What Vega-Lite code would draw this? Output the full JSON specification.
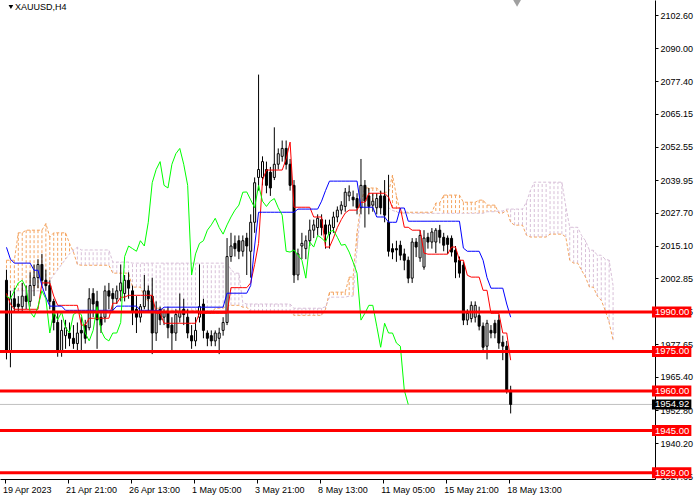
{
  "$schema": "https://vega.github.io/schema/vega-lite/v6.json",
  "width": 655,
  "height": 479,
  "padding": {"left": 0, "top": 0, "right": 45, "bottom": 21},
  "autosize": {"type": "none"},
  "background": "white",
  "config": {
    "font": "Liberation Sans",
    "view": {"stroke": null},
    "axis": {"labelFont": "Liberation Sans", "labelFontSize": 9, "labelColor": "black", "tickColor": "black", "domainColor": "black", "grid": false, "labelOverlap": false, "labelFlush": false, "labelBound": false, "title": null},
    "axisY": {"labelOverlap": false}
  },
  "title": {"text": "XAUUSD,H4", "anchor": "start", "frame": "group", "offset": -12, "dx": 15, "fontSize": 9, "font": "Liberation Sans", "fontWeight": "normal", "color": "black"},
  "datasets": {
    "bars": [
      {"i":0,"o":2002,"h":2006,"l":1972,"c":1975,"tk":1997,"kj":2014.5,"ch":1996},
      {"i":1,"o":1975,"h":1998,"l":1969,"c":1995,"tk":1993,"kj":2010,"ch":1995},
      {"i":2,"o":1995,"h":1999,"l":1990,"c":1992,"tk":1991,"kj":2008.5,"ch":1998},
      {"i":3,"o":1993,"h":1996,"l":1990,"c":1992,"tk":1991,"kj":2008.5,"ch":2001},
      {"i":4,"o":1992,"h":2001,"l":1990,"c":1996,"tk":1991,"kj":2008.5,"ch":2002},
      {"i":5,"o":1996,"h":2000,"l":1991,"c":1994,"tk":1991,"kj":2008.5,"ch":1999},
      {"i":6,"o":1994,"h":2005,"l":1992,"c":2000,"tk":1991,"kj":2008.5,"ch":1990},
      {"i":7,"o":2000,"h":2008,"l":1996,"c":2003,"tk":1991,"kj":2005.8,"ch":1988},
      {"i":8,"o":2003,"h":2010,"l":1999,"c":2008,"tk":1991,"kj":2005.8,"ch":1992},
      {"i":9,"o":2008,"h":2012,"l":2000,"c":2002,"tk":2001,"kj":2000,"ch":1998},
      {"i":10,"o":2002,"h":2006,"l":1998,"c":2000,"tk":2001,"kj":1995.6,"ch":1995},
      {"i":11,"o":2000,"h":2002,"l":1991,"c":1994,"tk":2001,"kj":1992.2,"ch":1982},
      {"i":12,"o":1994,"h":1995,"l":1983,"c":1986,"tk":1996,"kj":1992.2,"ch":1990},
      {"i":13,"o":1986,"h":1990,"l":1973,"c":1975,"tk":1992.5,"kj":1992.2,"ch":1987},
      {"i":14,"o":1975,"h":1987,"l":1973,"c":1983,"tk":1992.5,"kj":1992.2,"ch":1990},
      {"i":15,"o":1981,"h":1987,"l":1976,"c":1984,"tk":1992.5,"kj":1990.6,"ch":1984},
      {"i":16,"o":1982,"h":1986,"l":1977,"c":1980,"tk":1992.5,"kj":1990.6,"ch":1982},
      {"i":17,"o":1980,"h":1985,"l":1976,"c":1978,"tk":1992.5,"kj":1990.6,"ch":1989},
      {"i":18,"o":1978,"h":1986,"l":1975,"c":1982,"tk":1992.5,"kj":1990.6,"ch":1990},
      {"i":19,"o":1983,"h":1988,"l":1975,"c":1982,"tk":1985,"kj":1990.6,"ch":1989},
      {"i":20,"o":1985,"h":1987,"l":1978,"c":1980,"tk":1985,"kj":1990.6,"ch":1982},
      {"i":21,"o":1984,"h":1999,"l":1983,"c":1995,"tk":1987.6,"kj":1990.6,"ch":1979},
      {"i":22,"o":1997,"h":1999,"l":1988,"c":1993,"tk":1987.6,"kj":1990.6,"ch":1983},
      {"i":23,"o":1994,"h":1998,"l":1976,"c":1987,"tk":1987.6,"kj":1990.6,"ch":1992},
      {"i":24,"o":1988,"h":1990,"l":1982,"c":1985,"tk":1987.6,"kj":1990.6,"ch":1983},
      {"i":25,"o":1988,"h":2000,"l":1986,"c":1998,"tk":1987.6,"kj":1990.6,"ch":1980},
      {"i":26,"o":1998,"h":2001,"l":1991,"c":1996,"tk":1987.6,"kj":1990.6,"ch":1979},
      {"i":27,"o":1997,"h":1999,"l":1990,"c":1995,"tk":1993.3,"kj":1990.6,"ch":1982},
      {"i":28,"o":1995,"h":2000,"l":1993,"c":1998,"tk":1993.3,"kj":1992.2,"ch":1982},
      {"i":29,"o":1998,"h":2008,"l":1994,"c":2001,"tk":1995.6,"kj":1992.2,"ch":1986},
      {"i":30,"o":1997,"h":2004,"l":1994,"c":2002,"tk":1995.6,"kj":1992.2,"ch":2011},
      {"i":31,"o":2002,"h":2005,"l":1995,"c":1999,"tk":1996.3,"kj":1992.2,"ch":2015},
      {"i":32,"o":1998,"h":2000,"l":1985,"c":1990,"tk":1996.3,"kj":1992.2,"ch":2014},
      {"i":33,"o":1991,"h":1996,"l":1982,"c":1988,"tk":1996.3,"kj":1992.2,"ch":2013},
      {"i":34,"o":1988,"h":1993,"l":1986,"c":1992,"tk":1996.3,"kj":1990.6,"ch":2017},
      {"i":35,"o":1992,"h":2004,"l":1991,"c":1998,"tk":1996.3,"kj":1990.6,"ch":2015},
      {"i":36,"o":1998,"h":2000,"l":1990,"c":1995,"tk":1996.3,"kj":1990.6,"ch":2024},
      {"i":37,"o":1996,"h":2003,"l":1974,"c":1982,"tk":1996.3,"kj":1990.6,"ch":2039},
      {"i":38,"o":1982,"h":1994,"l":1979,"c":1990,"tk":1989.5,"kj":1990.6,"ch":2044},
      {"i":39,"o":1991,"h":1992,"l":1985,"c":1987,"tk":1989.5,"kj":1990.6,"ch":2047},
      {"i":40,"o":1988,"h":1991,"l":1985,"c":1990,"tk":1985.7,"kj":1991.8,"ch":2038},
      {"i":41,"o":1990,"h":1992,"l":1980,"c":1984,"tk":1985.7,"kj":1991.8,"ch":2037},
      {"i":42,"o":1985,"h":1988,"l":1975,"c":1982,"tk":1985.7,"kj":1991.8,"ch":2046},
      {"i":43,"o":1982,"h":1991,"l":1979,"c":1989,"tk":1985.7,"kj":1991.8,"ch":2050},
      {"i":44,"o":1988,"h":1997,"l":1986,"c":1990,"tk":1985.7,"kj":1991.8,"ch":2052},
      {"i":45,"o":1991,"h":1995,"l":1985,"c":1989,"tk":1985.7,"kj":1991.8,"ch":2046},
      {"i":46,"o":1988,"h":1991,"l":1980,"c":1982,"tk":1985.7,"kj":1991.8,"ch":2038},
      {"i":47,"o":1981,"h":1985,"l":1976,"c":1979,"tk":1985.7,"kj":1991.8,"ch":2004},
      {"i":48,"o":1979,"h":1988,"l":1977,"c":1983,"tk":1985.7,"kj":1991.8,"ch":2012},
      {"i":49,"o":1988,"h":2008,"l":1986,"c":1992,"tk":1989.5,"kj":1991.8,"ch":2016},
      {"i":50,"o":1993,"h":1995,"l":1980,"c":1983,"tk":1989.5,"kj":1991.8,"ch":2017},
      {"i":51,"o":1982,"h":1983,"l":1977,"c":1980,"tk":1989.5,"kj":1991.8,"ch":2021},
      {"i":52,"o":1981,"h":1983,"l":1977,"c":1979,"tk":1989.5,"kj":1991.8,"ch":2023},
      {"i":53,"o":1979,"h":1983,"l":1977,"c":1982,"tk":1989.5,"kj":1991.8,"ch":2025.5},
      {"i":54,"o":1980,"h":1984,"l":1974,"c":1982,"tk":1989.5,"kj":1991.8,"ch":2022},
      {"i":55,"o":1983,"h":1988,"l":1981,"c":1986,"tk":1989.5,"kj":1991.8,"ch":2019.5},
      {"i":56,"o":1986,"h":2018,"l":1985,"c":2011,"tk":1989.5,"kj":1997.1,"ch":2023},
      {"i":57,"o":2011,"h":2020,"l":2009,"c":2015,"tk":1999.2,"kj":1997.1,"ch":2026},
      {"i":58,"o":2016,"h":2019,"l":2011,"c":2014,"tk":1999.2,"kj":1997.1,"ch":2028.6},
      {"i":59,"o":2017,"h":2019,"l":2010,"c":2013,"tk":1999.2,"kj":1997.1,"ch":2030.5},
      {"i":60,"o":2013,"h":2019,"l":2011,"c":2017,"tk":1999.2,"kj":1997.1,"ch":2035.4},
      {"i":61,"o":2018,"h":2020,"l":2004,"c":2015,"tk":1999.2,"kj":1997.1,"ch":2035.5},
      {"i":62,"o":2013,"h":2027,"l":2003,"c":2024,"tk":2001,"kj":2000,"ch":2032.5},
      {"i":63,"o":2024,"h":2041,"l":2020,"c":2039,"tk":2008,"kj":2015,"ch":2029.5},
      {"i":64,"o":2041,"h":2080,"l":2036,"c":2044,"tk":2016,"kj":2027.8,"ch":2038},
      {"i":65,"o":2041,"h":2049,"l":2038,"c":2047,"tk":2040,"kj":2027.8,"ch":2032},
      {"i":66,"o":2044,"h":2047,"l":2035,"c":2038,"tk":2043.8,"kj":2027.8,"ch":2030},
      {"i":67,"o":2043,"h":2045,"l":2034,"c":2037,"tk":2043.8,"kj":2027.8,"ch":2032},
      {"i":68,"o":2041,"h":2060,"l":2040,"c":2046,"tk":2043.8,"kj":2027.8,"ch":2033},
      {"i":69,"o":2046,"h":2052,"l":2044,"c":2050,"tk":2043.8,"kj":2027.8,"ch":2029.5},
      {"i":70,"o":2049,"h":2055,"l":2047,"c":2052,"tk":2043.8,"kj":2027.8,"ch":2026.7},
      {"i":71,"o":2052,"h":2055,"l":2044,"c":2046,"tk":2048,"kj":2027.8,"ch":2013},
      {"i":72,"o":2046,"h":2048,"l":2036,"c":2038,"tk":2054.4,"kj":2027.8,"ch":2012.7},
      {"i":73,"o":2038,"h":2040,"l":2001,"c":2004,"tk":2029.7,"kj":2027.8,"ch":2013.5},
      {"i":74,"o":2004,"h":2014,"l":2002,"c":2012,"tk":2029.7,"kj":2029,"ch":2011.5},
      {"i":75,"o":2015,"h":2020,"l":2010,"c":2016,"tk":2029.7,"kj":2029,"ch":2009.6},
      {"i":76,"o":2014,"h":2019,"l":2010,"c":2017,"tk":2029.7,"kj":2029,"ch":2002.8},
      {"i":77,"o":2017,"h":2025,"l":2015,"c":2021,"tk":2029.7,"kj":2029,"ch":2016.5},
      {"i":78,"o":2021,"h":2025,"l":2018,"c":2023,"tk":2026,"kj":2029,"ch":2014.6},
      {"i":79,"o":2022,"h":2027,"l":2019,"c":2025.5,"tk":2026,"kj":2029,"ch":2019},
      {"i":80,"o":2025,"h":2027,"l":2019,"c":2022,"tk":2026,"kj":2032,"ch":2018},
      {"i":81,"o":2023,"h":2025,"l":2014,"c":2019.5,"tk":2014.6,"kj":2036,"ch":2016.5},
      {"i":82,"o":2019.5,"h":2025,"l":2014,"c":2023,"tk":2014.6,"kj":2039.6,"ch":2020.3},
      {"i":83,"o":2022,"h":2028,"l":2020,"c":2026,"tk":2018,"kj":2039.6,"ch":2021},
      {"i":84,"o":2026,"h":2030,"l":2024,"c":2028.6,"tk":2022,"kj":2039.6,"ch":2018.3},
      {"i":85,"o":2028.6,"h":2032,"l":2027,"c":2030.5,"tk":2025,"kj":2039.6,"ch":2015.3},
      {"i":86,"o":2030,"h":2037,"l":2028,"c":2035.4,"tk":2027.5,"kj":2039.6,"ch":2015.6},
      {"i":87,"o":2034,"h":2038,"l":2032,"c":2035.5,"tk":2028.6,"kj":2039.6,"ch":2012.7},
      {"i":88,"o":2033.5,"h":2036,"l":2030,"c":2032.5,"tk":2028.6,"kj":2039.6,"ch":2008.9},
      {"i":89,"o":2033,"h":2035,"l":2027,"c":2029.5,"tk":2028.6,"kj":2039.6,"ch":2004.7},
      {"i":90,"o":2029.5,"h":2048,"l":2027,"c":2038,"tk":2031.6,"kj":2029.7,"ch":1986.9},
      {"i":91,"o":2038,"h":2040,"l":2022,"c":2032,"tk":2031.6,"kj":2029.7,"ch":1989.5},
      {"i":92,"o":2034,"h":2037,"l":2027,"c":2030,"tk":2035,"kj":2029.7,"ch":1992.5},
      {"i":93,"o":2030.5,"h":2035,"l":2028,"c":2032,"tk":2035,"kj":2029.7,"ch":1992.5},
      {"i":94,"o":2029.5,"h":2035,"l":2027,"c":2033,"tk":2035,"kj":2026,"ch":1984.6},
      {"i":95,"o":2034,"h":2036,"l":2027,"c":2029.5,"tk":2035,"kj":2026,"ch":1976.6},
      {"i":96,"o":2034,"h":2040,"l":2024,"c":2026.7,"tk":2035,"kj":2026,"ch":1985.7},
      {"i":97,"o":2024,"h":2042,"l":2011,"c":2013,"tk":2033.5,"kj":2024,"ch":1982},
      {"i":98,"o":2014,"h":2016,"l":2010,"c":2012.7,"tk":2029.4,"kj":2024,"ch":1982},
      {"i":99,"o":2014,"h":2017,"l":2009,"c":2013.5,"tk":2029.4,"kj":2024,"ch":1978.2},
      {"i":100,"o":2015.3,"h":2017,"l":2009.6,"c":2011.5,"tk":2029.4,"kj":2029.4,"ch":1977},
      {"i":101,"o":2012,"h":2014,"l":2005.8,"c":2009.6,"tk":2022.1,"kj":2029.4,"ch":1960.3},
      {"i":102,"o":2009.6,"h":2011,"l":2000.9,"c":2002.8,"tk":2022.1,"kj":2024.4,"ch":1954.92},
      {"i":103,"o":2002.8,"h":2018,"l":2001,"c":2016.5,"tk":2021,"kj":2024.4},
      {"i":104,"o":2016.5,"h":2018,"l":2010.8,"c":2014.6,"tk":2021,"kj":2024.4},
      {"i":105,"o":2010.5,"h":2021,"l":2009,"c":2019,"tk":2021,"kj":2024.4},
      {"i":106,"o":2007,"h":2021,"l":2006,"c":2018,"tk":2012.3,"kj":2024.4},
      {"i":107,"o":2018.3,"h":2020,"l":2014,"c":2016.5,"tk":2011.9,"kj":2024.4},
      {"i":108,"o":2016.5,"h":2021.8,"l":2014,"c":2020.3,"tk":2011.9,"kj":2024.4},
      {"i":109,"o":2016.5,"h":2021.8,"l":2012.3,"c":2021,"tk":2011.9,"kj":2024.4},
      {"i":110,"o":2021,"h":2023,"l":2016,"c":2018.3,"tk":2011.9,"kj":2024.4},
      {"i":111,"o":2018.3,"h":2020,"l":2013,"c":2015.3,"tk":2011.9,"kj":2024.4},
      {"i":112,"o":2018,"h":2019,"l":2012,"c":2015.6,"tk":2011.9,"kj":2024.4},
      {"i":113,"o":2017.9,"h":2019,"l":2011,"c":2012.7,"tk":2014.6,"kj":2024.4},
      {"i":114,"o":2013.4,"h":2015,"l":2002.8,"c":2008.9,"tk":2014.6,"kj":2024.4},
      {"i":115,"o":2009.6,"h":2011,"l":2003,"c":2004.7,"tk":2009.6,"kj":2024.4},
      {"i":116,"o":2007.7,"h":2009,"l":1985,"c":1986.9,"tk":2009.6,"kj":2014.2},
      {"i":117,"o":1986.9,"h":1991,"l":1985,"c":1989.5,"tk":2003.9,"kj":2013},
      {"i":118,"o":1987.5,"h":1994,"l":1986,"c":1992.5,"tk":2003.2,"kj":2013},
      {"i":119,"o":1988,"h":1994,"l":1986,"c":1992.5,"tk":2003.2,"kj":2013},
      {"i":120,"o":1988.6,"h":1992,"l":1983,"c":1984.6,"tk":2003.2,"kj":2013},
      {"i":121,"o":1984.6,"h":1986,"l":1975,"c":1976.6,"tk":1998.2,"kj":2009.6},
      {"i":122,"o":1977,"h":1987,"l":1972,"c":1985.7,"tk":1998.2,"kj":2003},
      {"i":123,"o":1983,"h":1985,"l":1980,"c":1982,"tk":1989.5,"kj":1999},
      {"i":124,"o":1985.7,"h":1987,"l":1980,"c":1982,"tk":1989.5,"kj":1999},
      {"i":125,"o":1986.9,"h":1989,"l":1976,"c":1978.2,"tk":1989.5,"kj":1999},
      {"i":126,"o":1978.5,"h":1981,"l":1971.7,"c":1977,"tk":1982,"kj":1999},
      {"i":127,"o":1977,"h":1979,"l":1959,"c":1960.3,"tk":1982,"kj":1993},
      {"i":128,"o":1960.3,"h":1962,"l":1951.5,"c":1954.92,"tk":1971.7,"kj":1988}
    ],
    "cloud": [
      {"i":0,"a":2009.6,"b":1998},{"i":1,"a":2009.6,"b":1998},{"i":2,"a":2009.6,"b":1998},
      {"i":3,"a":2020,"b":1998},{"i":4,"a":2020,"b":1998},{"i":5,"a":2021,"b":1998},
      {"i":6,"a":2021,"b":1998},{"i":7,"a":2021,"b":1998},{"i":8,"a":2021,"b":1998},
      {"i":9,"a":2021,"b":1998},{"i":10,"a":2023.5,"b":2000},{"i":11,"a":2018.4,"b":2002},
      {"i":12,"a":2020,"b":2004},{"i":13,"a":2020,"b":2006},{"i":14,"a":2020,"b":2008},
      {"i":15,"a":2020,"b":2010},{"i":16,"a":2016,"b":2012},{"i":17,"a":2012.7,"b":2013.5},
      {"i":18,"a":2008,"b":2014.5},{"i":19,"a":2007.7,"b":2013.5},{"i":20,"a":2007.7,"b":2013.5},
      {"i":21,"a":2007.7,"b":2013.5},{"i":22,"a":2007.7,"b":2013.5},{"i":23,"a":2007.7,"b":2013.5},
      {"i":24,"a":2007.7,"b":2013.5},{"i":25,"a":2007.7,"b":2013.5},{"i":26,"a":2007.7,"b":2013.5},
      {"i":27,"a":2004.7,"b":2008.9},{"i":28,"a":2004.7,"b":2008.9},{"i":29,"a":2004.7,"b":2008.9},
      {"i":30,"a":2004.7,"b":2008.9},{"i":31,"a":2004.7,"b":2008.9},{"i":32,"a":1999.4,"b":2008.5},
      {"i":33,"a":1999.4,"b":2008.5},{"i":34,"a":1999.4,"b":2008.5},{"i":35,"a":1996,"b":2008.5},
      {"i":36,"a":1994,"b":2008.5},{"i":37,"a":1994,"b":2008.5},{"i":38,"a":1991.4,"b":2008.5},
      {"i":39,"a":1991.4,"b":2008.5},{"i":40,"a":1990.6,"b":2008.5},{"i":41,"a":1990.6,"b":2008.5},
      {"i":42,"a":1990.6,"b":2008.5},{"i":43,"a":1990.6,"b":2008.5},{"i":44,"a":1990.6,"b":2008.5},
      {"i":45,"a":1990.6,"b":2008.5},{"i":46,"a":1990.6,"b":2008.5},{"i":47,"a":1990.6,"b":2008.5},
      {"i":48,"a":1990.6,"b":2008.5},{"i":49,"a":1990.6,"b":2008.5},{"i":50,"a":1989.5,"b":2008.5},
      {"i":51,"a":1989.5,"b":2008.5},{"i":52,"a":1989.5,"b":2008.5},{"i":53,"a":1991.4,"b":2008.5},
      {"i":54,"a":1991.4,"b":2008.5},{"i":55,"a":1991.4,"b":2008.5},{"i":56,"a":1992.5,"b":2008.5},
      {"i":57,"a":1992.5,"b":2006},{"i":58,"a":1992.5,"b":2004.7},{"i":59,"a":1992.5,"b":2004.7},
      {"i":60,"a":1991.8,"b":1993.5},{"i":61,"a":1991.8,"b":1993},{"i":62,"a":1990,"b":1993},
      {"i":63,"a":1990,"b":1993},{"i":64,"a":1990,"b":1993},{"i":65,"a":1990,"b":1993},
      {"i":66,"a":1990,"b":1993},{"i":67,"a":1990,"b":1993},{"i":68,"a":1990,"b":1993},
      {"i":69,"a":1990,"b":1993},{"i":70,"a":1990,"b":1993},{"i":71,"a":1990,"b":1993},
      {"i":72,"a":1990,"b":1993},{"i":73,"a":1988.7,"b":1991.4},{"i":74,"a":1988.7,"b":1991.4},
      {"i":75,"a":1988.7,"b":1991.4},{"i":76,"a":1988.7,"b":1991.4},{"i":77,"a":1988.7,"b":1991.4},
      {"i":78,"a":1988.7,"b":1991.4},{"i":79,"a":1988.7,"b":1991.4},{"i":80,"a":1988.7,"b":1991.4},
      {"i":81,"a":1991,"b":1992},{"i":82,"a":1997.5,"b":1995.6},{"i":83,"a":1997.5,"b":1995.6},
      {"i":84,"a":1997.5,"b":1995.6},{"i":85,"a":1997.5,"b":1995.6},{"i":86,"a":1997.5,"b":1995.6},
      {"i":87,"a":2003.2,"b":1996},{"i":88,"a":2003.2,"b":1996},{"i":89,"a":2020,"b":2014},
      {"i":90,"a":2031,"b":2030},{"i":91,"a":2037,"b":2030.5},{"i":92,"a":2037,"b":2030.5},
      {"i":93,"a":2037,"b":2030.5},{"i":94,"a":2037,"b":2030.5},{"i":95,"a":2035.4,"b":2029.5},
      {"i":96,"a":2035.4,"b":2029.5},{"i":97,"a":2035.4,"b":2029.5},{"i":98,"a":2041.9,"b":2028.5},
      {"i":99,"a":2034,"b":2028},{"i":100,"a":2027.8,"b":2027.4},{"i":101,"a":2027.8,"b":2027.4},
      {"i":102,"a":2027.8,"b":2027.4},{"i":103,"a":2027.8,"b":2027.4},{"i":104,"a":2027.8,"b":2027.4},
      {"i":105,"a":2027.8,"b":2027.4},{"i":106,"a":2027.8,"b":2027.4},{"i":107,"a":2027.8,"b":2027.4},
      {"i":108,"a":2027.8,"b":2027.4},{"i":109,"a":2031.3,"b":2027.4},{"i":110,"a":2031.3,"b":2027.4},
      {"i":111,"a":2034.3,"b":2027.4},{"i":112,"a":2034.3,"b":2027.4},{"i":113,"a":2034.3,"b":2027.4},
      {"i":114,"a":2034.3,"b":2027.4},{"i":115,"a":2034.3,"b":2027.4},{"i":116,"a":2031.6,"b":2027.4},
      {"i":117,"a":2031.6,"b":2027.4},{"i":118,"a":2031.6,"b":2027.4},{"i":119,"a":2031.6,"b":2027.4},
      {"i":120,"a":2032.4,"b":2027.4},{"i":121,"a":2032.4,"b":2027.4},{"i":122,"a":2030.5,"b":2028},
      {"i":123,"a":2030.5,"b":2028},{"i":124,"a":2030.5,"b":2028},{"i":125,"a":2027.5,"b":2028.3},
      {"i":126,"a":2027.5,"b":2028.3},{"i":127,"a":2028.6,"b":2029},{"i":128,"a":2024,"b":2029},
      {"i":129,"a":2022.9,"b":2029},{"i":130,"a":2022.9,"b":2029},{"i":131,"a":2022.9,"b":2029},
      {"i":132,"a":2019.1,"b":2031.6},{"i":133,"a":2018.4,"b":2036},{"i":134,"a":2018.4,"b":2039.2},
      {"i":135,"a":2018.4,"b":2039.2},{"i":136,"a":2018.4,"b":2039.2},{"i":137,"a":2018.4,"b":2039.2},
      {"i":138,"a":2019.5,"b":2039.2},{"i":139,"a":2019.5,"b":2039.2},{"i":140,"a":2019.5,"b":2039.2},
      {"i":141,"a":2019.5,"b":2039.2},{"i":142,"a":2018.4,"b":2030},{"i":143,"a":2009.6,"b":2022.1},
      {"i":144,"a":2008.5,"b":2022.1},{"i":145,"a":2008.5,"b":2022.1},{"i":146,"a":2005.8,"b":2019},
      {"i":147,"a":2003.2,"b":2017},{"i":148,"a":1999.4,"b":2013.4},{"i":149,"a":1999.4,"b":2013.4},
      {"i":150,"a":1996,"b":2011.5},{"i":151,"a":1994.4,"b":2011.5},{"i":152,"a":1990.6,"b":2010},
      {"i":153,"a":1986,"b":2009.6},{"i":154,"a":1979.3,"b":2000}
    ],
    "levels": [{"p": 1990}, {"p": 1975}, {"p": 1960}, {"p": 1945}, {"p": 1929}],
    "last": [{"p": 1954.92}]
  },
  "layer": [
    {
      "data": {"name": "cloud"},
      "mark": {"type": "rule", "strokeWidth": 1, "strokeDash": [3, 2]},
      "encoding": {
        "x": {
          "field": "i", "type": "quantitative", "title": null,
          "scale": {"domain": [-0.375, 163.375], "nice": false, "zero": false},
          "axis": {
            "values": [-0.5, 15.5, 31.5, 47.5, 63.5, 79.5, 95.5, 111.5, 127.5],
            "labelExpr": "['19 Apr 2023','21 Apr 21:00','26 Apr 13:00','1 May 05:00','3 May 21:00','8 May 13:00','11 May 05:00','15 May 21:00','18 May 13:00'][round((datum.value + 0.5) / 16)]",
            "labelAlign": "left", "labelBaseline": "top", "labelPadding": 2, "tickSize": 4, "labelOffset": -2,
            "labelOverlap": false, "labelFlush": false, "labelBound": false, "title": null
          }
        },
        "y": {
          "field": "a", "type": "quantitative", "title": null,
          "scale": {"domain": [1926.64, 2108.29], "nice": false, "zero": false},
          "axis": {
            "orient": "right",
            "values": [2102.6, 2090, 2077.4, 2065.15, 2052.55, 2039.95, 2027.7, 2015.1, 2002.85, 1990.25, 1977.65, 1965.4, 1952.8, 1940.2, 1927.65],
            "format": ".2f", "labelAlign": "left", "labelBaseline": "middle", "labelPadding": 2, "tickSize": 3,
            "labelOverlap": false, "labelFlush": false, "labelBound": false, "title": null
          }
        },
        "y2": {"field": "b"},
        "color": {"condition": {"test": "datum.a >= datum.b", "value": "#F4A460"}, "value": "#D8BFD8"}
      }
    },
    {
      "data": {"name": "cloud"},
      "mark": {"type": "line", "color": "#F4A460", "strokeWidth": 1, "strokeDash": [3, 2]},
      "encoding": {
        "x": {"field": "i", "type": "quantitative", "title": null},
        "y": {"field": "a", "type": "quantitative", "title": null, "axis": {"orient": "right", "values": [2102.6, 2090, 2077.4, 2065.15, 2052.55, 2039.95, 2027.7, 2015.1, 2002.85, 1990.25, 1977.65, 1965.4, 1952.8, 1940.2, 1927.65], "format": ".2f", "labelAlign": "left", "labelBaseline": "middle", "labelPadding": 2, "tickSize": 3, "labelOverlap": false, "title": null}}
      }
    },
    {
      "data": {"name": "cloud"},
      "mark": {"type": "line", "color": "#D8BFD8", "strokeWidth": 1, "strokeDash": [3, 2]},
      "encoding": {
        "x": {"field": "i", "type": "quantitative", "title": null},
        "y": {"field": "b", "type": "quantitative", "title": null, "axis": {"orient": "right", "values": [2102.6, 2090, 2077.4, 2065.15, 2052.55, 2039.95, 2027.7, 2015.1, 2002.85, 1990.25, 1977.65, 1965.4, 1952.8, 1940.2, 1927.65], "format": ".2f", "labelAlign": "left", "labelBaseline": "middle", "labelPadding": 2, "tickSize": 3, "labelOverlap": false, "title": null}}
      }
    },
    {
      "data": {"name": "last"},
      "mark": {"type": "rule", "color": "#C0C0C0", "strokeWidth": 1},
      "encoding": {"y": {"field": "p", "type": "quantitative", "title": null, "axis": {"orient": "right", "values": [2102.6, 2090, 2077.4, 2065.15, 2052.55, 2039.95, 2027.7, 2015.1, 2002.85, 1990.25, 1977.65, 1965.4, 1952.8, 1940.2, 1927.65], "format": ".2f", "labelAlign": "left", "labelBaseline": "middle", "labelPadding": 2, "tickSize": 3, "labelOverlap": false, "title": null}}}
    },
    {
      "data": {"name": "bars"},
      "mark": {"type": "rule", "color": "black", "strokeWidth": 1},
      "encoding": {
        "x": {"field": "i", "type": "quantitative", "title": null},
        "y": {"field": "l", "type": "quantitative", "title": null, "axis": {"orient": "right", "values": [2102.6, 2090, 2077.4, 2065.15, 2052.55, 2039.95, 2027.7, 2015.1, 2002.85, 1990.25, 1977.65, 1965.4, 1952.8, 1940.2, 1927.65], "format": ".2f", "labelAlign": "left", "labelBaseline": "middle", "labelPadding": 2, "tickSize": 3, "labelOverlap": false, "title": null}},
        "y2": {"field": "h"}
      }
    },
    {
      "data": {"name": "bars"},
      "mark": {"type": "bar", "width": 2, "stroke": "black", "strokeWidth": 1},
      "encoding": {
        "x": {"field": "i", "type": "quantitative", "title": null},
        "y": {"field": "o", "type": "quantitative", "title": null, "axis": {"orient": "right", "values": [2102.6, 2090, 2077.4, 2065.15, 2052.55, 2039.95, 2027.7, 2015.1, 2002.85, 1990.25, 1977.65, 1965.4, 1952.8, 1940.2, 1927.65], "format": ".2f", "labelAlign": "left", "labelBaseline": "middle", "labelPadding": 2, "tickSize": 3, "labelOverlap": false, "title": null}},
        "y2": {"field": "c"},
        "fill": {"condition": {"test": "datum.c >= datum.o", "value": "white"}, "value": "black"}
      }
    },
    {
      "data": {"name": "bars"},
      "mark": {"type": "line", "color": "#FF0000", "strokeWidth": 1},
      "encoding": {
        "x": {"field": "i", "type": "quantitative", "title": null},
        "y": {"field": "tk", "type": "quantitative", "title": null, "axis": {"orient": "right", "values": [2102.6, 2090, 2077.4, 2065.15, 2052.55, 2039.95, 2027.7, 2015.1, 2002.85, 1990.25, 1977.65, 1965.4, 1952.8, 1940.2, 1927.65], "format": ".2f", "labelAlign": "left", "labelBaseline": "middle", "labelPadding": 2, "tickSize": 3, "labelOverlap": false, "title": null}}
      }
    },
    {
      "data": {"name": "bars"},
      "mark": {"type": "line", "color": "#0000FF", "strokeWidth": 1},
      "encoding": {
        "x": {"field": "i", "type": "quantitative", "title": null},
        "y": {"field": "kj", "type": "quantitative", "title": null, "axis": {"orient": "right", "values": [2102.6, 2090, 2077.4, 2065.15, 2052.55, 2039.95, 2027.7, 2015.1, 2002.85, 1990.25, 1977.65, 1965.4, 1952.8, 1940.2, 1927.65], "format": ".2f", "labelAlign": "left", "labelBaseline": "middle", "labelPadding": 2, "tickSize": 3, "labelOverlap": false, "title": null}}
      }
    },
    {
      "data": {"name": "bars"},
      "mark": {"type": "line", "color": "#00FF00", "strokeWidth": 1},
      "encoding": {
        "x": {"field": "i", "type": "quantitative", "title": null},
        "y": {"field": "ch", "type": "quantitative", "title": null, "axis": {"orient": "right", "values": [2102.6, 2090, 2077.4, 2065.15, 2052.55, 2039.95, 2027.7, 2015.1, 2002.85, 1990.25, 1977.65, 1965.4, 1952.8, 1940.2, 1927.65], "format": ".2f", "labelAlign": "left", "labelBaseline": "middle", "labelPadding": 2, "tickSize": 3, "labelOverlap": false, "title": null}}
      }
    },
    {
      "data": {"name": "levels"},
      "mark": {"type": "rule", "color": "#FF0000", "strokeWidth": 3},
      "encoding": {"y": {"field": "p", "type": "quantitative", "title": null, "axis": {"orient": "right", "values": [2102.6, 2090, 2077.4, 2065.15, 2052.55, 2039.95, 2027.7, 2015.1, 2002.85, 1990.25, 1977.65, 1965.4, 1952.8, 1940.2, 1927.65], "format": ".2f", "labelAlign": "left", "labelBaseline": "middle", "labelPadding": 2, "tickSize": 3, "labelOverlap": false, "title": null}}}
    },
    {
      "data": {"name": "levels"},
      "mark": {"type": "rule", "color": "#FF0000", "strokeWidth": 11, "strokeCap": "butt"},
      "encoding": {
        "x": {"datum": 163.875, "type": "quantitative", "title": null},
        "x2": {"datum": 173.875},
        "y": {"field": "p", "type": "quantitative", "title": null, "axis": {"orient": "right", "values": [2102.6, 2090, 2077.4, 2065.15, 2052.55, 2039.95, 2027.7, 2015.1, 2002.85, 1990.25, 1977.65, 1965.4, 1952.8, 1940.2, 1927.65], "format": ".2f", "labelAlign": "left", "labelBaseline": "middle", "labelPadding": 2, "tickSize": 3, "labelOverlap": false, "title": null}}
      }
    },
    {
      "data": {"name": "levels"},
      "mark": {"type": "text", "color": "white", "align": "left", "baseline": "middle", "fontSize": 9.5, "font": "Liberation Sans"},
      "encoding": {
        "x": {"datum": 164.625, "type": "quantitative", "title": null},
        "y": {"field": "p", "type": "quantitative", "title": null, "axis": {"orient": "right", "values": [2102.6, 2090, 2077.4, 2065.15, 2052.55, 2039.95, 2027.7, 2015.1, 2002.85, 1990.25, 1977.65, 1965.4, 1952.8, 1940.2, 1927.65], "format": ".2f", "labelAlign": "left", "labelBaseline": "middle", "labelPadding": 2, "tickSize": 3, "labelOverlap": false, "title": null}},
        "text": {"field": "p", "type": "quantitative", "format": ".2f"}
      }
    },
    {
      "data": {"name": "last"},
      "mark": {"type": "rule", "color": "black", "strokeWidth": 10, "strokeCap": "butt"},
      "encoding": {
        "x": {"datum": 163.875, "type": "quantitative", "title": null},
        "x2": {"datum": 173.875},
        "y": {"field": "p", "type": "quantitative", "title": null, "axis": {"orient": "right", "values": [2102.6, 2090, 2077.4, 2065.15, 2052.55, 2039.95, 2027.7, 2015.1, 2002.85, 1990.25, 1977.65, 1965.4, 1952.8, 1940.2, 1927.65], "format": ".2f", "labelAlign": "left", "labelBaseline": "middle", "labelPadding": 2, "tickSize": 3, "labelOverlap": false, "title": null}}
      }
    },
    {
      "data": {"name": "last"},
      "mark": {"type": "text", "color": "white", "align": "left", "baseline": "middle", "fontSize": 9.5, "font": "Liberation Sans"},
      "encoding": {
        "x": {"datum": 164.625, "type": "quantitative", "title": null},
        "y": {"field": "p", "type": "quantitative", "title": null, "axis": {"orient": "right", "values": [2102.6, 2090, 2077.4, 2065.15, 2052.55, 2039.95, 2027.7, 2015.1, 2002.85, 1990.25, 1977.65, 1965.4, 1952.8, 1940.2, 1927.65], "format": ".2f", "labelAlign": "left", "labelBaseline": "middle", "labelPadding": 2, "tickSize": 3, "labelOverlap": false, "title": null}},
        "text": {"field": "p", "type": "quantitative", "format": ".2f"}
      }
    },
    {
      "data": {"values": [{"k": "menu"}]},
      "mark": {"type": "point", "shape": "triangle-down", "filled": true, "color": "black", "size": 22, "opacity": 1},
      "encoding": {
        "x": {"datum": 1.125, "type": "quantitative", "title": null},
        "y": {"datum": 2105.6, "type": "quantitative", "title": null, "axis": {"orient": "right", "values": [2102.6, 2090, 2077.4, 2065.15, 2052.55, 2039.95, 2027.7, 2015.1, 2002.85, 1990.25, 1977.65, 1965.4, 1952.8, 1940.2, 1927.65], "format": ".2f", "labelAlign": "left", "labelBaseline": "middle", "labelPadding": 2, "tickSize": 3, "labelOverlap": false, "title": null}}
      }
    },
    {
      "data": {"values": [{"k": "shift"}]},
      "mark": {"type": "point", "shape": "triangle-down", "filled": true, "color": "#A0A0A0", "size": 60, "opacity": 1},
      "encoding": {
        "x": {"datum": 129.625, "type": "quantitative", "title": null},
        "y": {"datum": 2107.0, "type": "quantitative", "title": null, "axis": {"orient": "right", "values": [2102.6, 2090, 2077.4, 2065.15, 2052.55, 2039.95, 2027.7, 2015.1, 2002.85, 1990.25, 1977.65, 1965.4, 1952.8, 1940.2, 1927.65], "format": ".2f", "labelAlign": "left", "labelBaseline": "middle", "labelPadding": 2, "tickSize": 3, "labelOverlap": false, "title": null}}
      }
    }
  ]
}
